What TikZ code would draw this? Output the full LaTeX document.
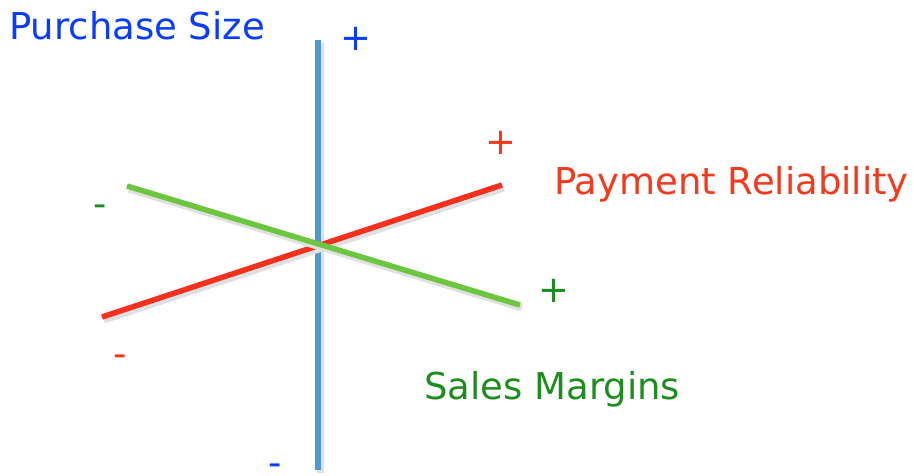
\documentclass[tikz,border=0pt]{standalone}
\usepackage{fontspec}
\setmainfont{DejaVu Sans}
\definecolor{axisblue}{HTML}{4A9BCB}
\definecolor{axisred}{HTML}{F5301E}
\definecolor{axisgreen}{HTML}{6CC640}
\definecolor{txtblue}{HTML}{0A3CFF}
\definecolor{txtred}{HTML}{F23A1E}
\definecolor{txtgreen}{HTML}{1E8C1E}
\usetikzlibrary{positioning}
\tikzset{
  axisline/.style={line width=5.5pt, line cap=butt,
                   preaction={draw=black!12, line width=7pt, transform canvas={shift={(2pt,-3pt)}}}},
  axlbl/.style={font=\fontsize{37}{42}\selectfont, inner sep=0pt, anchor=west},
  sgn/.style={font=\fontsize{37}{42}\selectfont, inner sep=0pt},
}
\begin{document}
\begin{tikzpicture}[x=1pt, y=-1pt]
  \useasboundingbox (0,0) rectangle (914,475);
  % axis end points
  \coordinate (pstop) at (318,40);
  \coordinate (psbot) at (318,470);
  \coordinate (prlo) at (102,317);
  \coordinate (prhi) at (502,185);
  \coordinate (smlo) at (127,186);
  \coordinate (smhi) at (520,305);
  \draw[axisline, axisblue]  (pstop) -- (psbot);
  \draw[axisline, axisred]   (prlo) -- (prhi);
  \draw[axisline, axisgreen] (smlo) -- (smhi);
  % labels
  \node[axlbl, text=txtblue]  (ps) at (9,26)  {Purchase Size};
  \node[axlbl, text=txtred]   (pr) at (554,184) {Payment Reliability};
  \node[axlbl, text=txtgreen] (sm) at (424,389) {Sales Margins};
  \node[sgn, text=txtblue]  (psplus)  at (356,39)  {+};
  \node[sgn, text=txtblue]  (psminus) at (275,470) {-};
  \node[sgn, text=txtred]   (prplus)  at (501,143) {+};
  \node[sgn, text=txtred]   (prminus) at (120,361) {-};
  \node[sgn, text=txtgreen] (smplus)  at (554,291) {+};
  \node[sgn, text=txtgreen] (smminus) at (100,211) {-};
\end{tikzpicture}
\end{document}
